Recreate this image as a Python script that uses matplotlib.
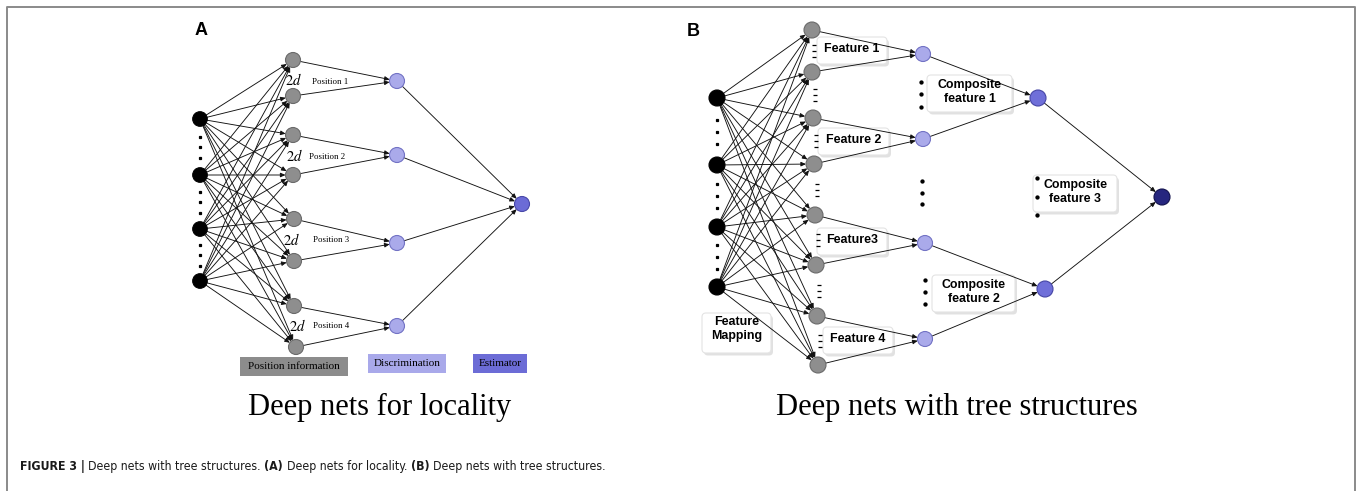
import matplotlib
matplotlib.use('Agg')
import matplotlib.pyplot as plt
from matplotlib.patches import Circle, FancyArrowPatch, FancyBboxPatch, Rectangle
from matplotlib import font_manager as fm

plt.rcParams['mathtext.fontset'] = 'stix'

# ---------------- data (diagram layout, pixel units) -------------
# Panel A: deep nets for locality
a_input_x = 200
a_input_y = [119, 175, 229, 281]
a_hidden_x = [293, 293, 293, 293, 294, 294, 294, 296]
a_hidden_y = [60, 96, 135, 175, 219, 261, 306, 347]
a_disc_x = 397
a_disc_y = [81, 155, 243, 326]
a_est = (522, 204)
a_position_labels = ['Position 1', 'Position 2', 'Position 3', 'Position 4']
a_2d_pos = [(294, 80), (295, 156), (292, 240), (298, 326)]
a_poslabel_pos = [(312, 82), (309, 157), (313, 240), (313, 326)]
a_legend_labels = ['Position information', 'Discrimination', 'Estimator']
a_legend_boxes = [(240, 357, 108, 19), (368, 354, 78, 19), (473, 354, 54, 19)]
a_legend_colors = ['#8c8c8c', '#a9a9ea', '#6c6cd6']
a_title = 'Deep nets for locality'

# Panel B: deep nets with tree structures
b_input_x = 717
b_input_y = [98, 165, 227, 287]
b_hidden_x = [812, 812, 813, 814, 815, 816, 817, 818]
b_hidden_y = [30, 72, 118, 164, 215, 265, 316, 365]
b_feat_x = [923, 923, 925, 925]
b_feat_y = [54, 139, 243, 339]
b_comp = [(1038, 98), (1045, 289)]
b_final = (1162, 197)
b_feature_labels = ['Feature 1', 'Feature 2', 'Feature3', 'Feature 4']
b_feature_boxes = [(817, 37, 70, 27), (818, 128, 71, 27), (817, 228, 70, 27), (823, 327, 70, 27)]
b_comp_labels = ['Composite\nfeature 1', 'Composite\nfeature 2', 'Composite\nfeature 3']
b_comp_boxes = [(927, 75, 85, 37), (932, 275, 83, 37), (1033, 175, 84, 37)]
b_comp_dots = [(921, [82, 94, 107]), (925, [280, 292, 304]), (1037, [178, 197, 215]), (922, [181, 193, 204])]
b_map_label = 'Feature\nMapping'
b_map_box = (702, 313, 69, 40)
b_title = 'Deep nets with tree structures'

caption_parts = [('FIGURE 3 |', 'bold'), ('Deep nets with tree structures.', 'normal'),
                 ('(A)', 'bold'), ('Deep nets for locality.', 'normal'),
                 ('(B)', 'bold'), ('Deep nets with tree structures.', 'normal')]

# ---------------- figure -------------
W, H = 1359, 491
fig = plt.figure(figsize=(W / 100, H / 100), dpi=100)
ax = fig.add_axes([0, 0, 1, 1])
ax.set_xlim(0, W)
ax.set_ylim(H, 0)
ax.axis('off')
PT = 0.72  # points per pixel

SERIF = 'Liberation Serif'
SANS = 'Liberation Sans'

# caption font: prefer a condensed sans face if one is installed
cap_reg, cap_bold = None, None
for f in fm.fontManager.ttflist:
    if f.name == 'Liberation Sans Narrow' or (f.name in ('DejaVu Sans',) and 'condensed' in str(f.stretch)):
        w = f.weight if isinstance(f.weight, int) else (700 if 'bold' in str(f.weight) else 400)
        if f.style != 'normal':
            continue
        if w >= 600 and cap_bold is None:
            cap_bold = fm.FontProperties(fname=f.fname)
        elif w < 600 and cap_reg is None:
            cap_reg = fm.FontProperties(fname=f.fname)
if cap_reg is None or cap_bold is None:
    cap_reg = fm.FontProperties(family=SANS, weight='normal')
    cap_bold = fm.FontProperties(family=SANS, weight='bold')

# frame
ax.plot([7, 7, 1355, 1355], [H, 7, 7, H], color='#8a8a8a', lw=1.4, solid_capstyle='butt', zorder=1)


def node(x, y, r, fc, ec):
    ax.add_patch(Circle((x, y), r, fc=fc, ec=ec, lw=0.8, zorder=5))


def arrow(p, q, ra, rb):
    ax.add_patch(FancyArrowPatch(p, q, arrowstyle='-|>,head_length=0.45,head_width=0.2',
                                 mutation_scale=6.5, shrinkA=ra * PT, shrinkB=rb * PT,
                                 lw=0.65, color='#111111', zorder=3))


def dots(x, ys, marker='s', ms=1.8):
    ax.plot([x] * len(ys), ys, ls='none', marker=marker, ms=ms, color='k', mew=0.9, zorder=4)


def label_box(x0, y0, w, h):
    ax.add_patch(FancyBboxPatch((x0 + 2, y0 + 2.5), w, h, boxstyle='round,pad=0,rounding_size=4',
                                fc='#dadada', ec='none', alpha=0.8, zorder=2))
    ax.add_patch(FancyBboxPatch((x0, y0), w, h, boxstyle='round,pad=0,rounding_size=4',
                                fc='white', ec='#e4e4e4', lw=0.8, zorder=2.1))


# ---------------- panel A -------------
ax.text(201, 30, 'A', fontsize=13, fontweight='bold', family=SANS, ha='center', va='center')
R_A = 7.5
for yi in a_input_y:
    for xh, yh in zip(a_hidden_x, a_hidden_y):
        arrow((a_input_x, yi), (xh, yh), 7.3, R_A)
for k, yd in enumerate(a_disc_y):
    for j in (2 * k, 2 * k + 1):
        arrow((a_hidden_x[j], a_hidden_y[j]), (a_disc_x, yd), R_A, R_A)
    arrow((a_disc_x, yd), a_est, R_A, R_A)
for yi in a_input_y:
    node(a_input_x, yi, 7.3, 'black', 'black')
for y0, y1 in zip(a_input_y[:-1], a_input_y[1:]):
    m = (y0 + y1) / 2
    dots(a_input_x, [m - 10.5, m, m + 10.5])
for xh, yh in zip(a_hidden_x, a_hidden_y):
    node(xh, yh, R_A, '#8e8e8e', '#6a6a6a')
for yd in a_disc_y:
    node(a_disc_x, yd, R_A, '#aaaaea', '#7272c4')
node(a_est[0], a_est[1], R_A, '#6b6bd6', '#4848a8')
for (x2, y2), (xp, yp), lab in zip(a_2d_pos, a_poslabel_pos, a_position_labels):
    ax.text(x2, y2, r'$2d$', fontsize=10.5, ha='center', va='center', zorder=6)
    ax.text(xp, yp, lab, fontsize=6.4, family=SERIF, ha='left', va='center', zorder=6)
for (x0, y0, w, h), c, lab in zip(a_legend_boxes, a_legend_colors, a_legend_labels):
    ax.add_patch(Rectangle((x0, y0), w, h, fc=c, ec='none', zorder=2))
    ax.text(x0 + w / 2, y0 + h / 2, lab, fontsize=8, family=SERIF, ha='center', va='center', zorder=6)
ax.text(380, 415, a_title, fontsize=22, family=SERIF, ha='center', va='baseline')

# ---------------- panel B -------------
ax.text(693, 31.5, 'B', fontsize=13, fontweight='bold', family=SANS, ha='center', va='center')
for (x0, y0, w, h) in b_feature_boxes + b_comp_boxes + [b_map_box]:
    label_box(x0, y0, w, h)
for yi in b_input_y:
    for xh, yh in zip(b_hidden_x, b_hidden_y):
        arrow((b_input_x, yi), (xh, yh), 8, 8)
for k, (xf, yf) in enumerate(zip(b_feat_x, b_feat_y)):
    for j in (2 * k, 2 * k + 1):
        arrow((b_hidden_x[j], b_hidden_y[j]), (xf, yf), 8, 7.5)
    arrow((xf, yf), b_comp[k // 2], 7.5, 8)
for c in b_comp:
    arrow(c, b_final, 8, 8)
for yi in b_input_y:
    node(b_input_x, yi, 8, 'black', 'black')
for y0, y1 in zip(b_input_y[:-1], b_input_y[1:]):
    m = (y0 + y1) / 2
    dots(b_input_x, [m - 12, m, m + 12])
for k, (y0, y1) in enumerate(zip(b_hidden_y[:-1], b_hidden_y[1:])):
    m = (y0 + y1) / 2
    x = (b_hidden_x[k] + b_hidden_x[k + 1]) / 2 + 2
    dots(x, [m - 6, m, m + 6], marker='_', ms=3.0)
for xh, yh in zip(b_hidden_x, b_hidden_y):
    node(xh, yh, 8, '#8e8e8e', '#6a6a6a')
for xf, yf in zip(b_feat_x, b_feat_y):
    node(xf, yf, 7.5, '#aaaaea', '#7272c4')
for c in b_comp:
    node(c[0], c[1], 8, '#6f6fd9', '#4545a5')
node(b_final[0], b_final[1], 8, '#26267f', '#12124d')
for xd, ys in b_comp_dots:
    dots(xd, ys, marker='o', ms=2.2)
for (x0, y0, w, h), lab in zip(b_feature_boxes, b_feature_labels):
    ax.text(x0 + w / 2, y0 + h / 2 - 1.5, lab, fontsize=8.9, fontweight='bold', family=SANS,
            ha='center', va='center', zorder=6)
for (x0, y0, w, h), lab in zip(b_comp_boxes, b_comp_labels):
    ax.text(x0 + w / 2, y0 + h / 2 - 1.5, lab, fontsize=8.9, fontweight='bold', family=SANS,
            ha='center', va='center', linespacing=1.15, zorder=6)
x0, y0, w, h = b_map_box
ax.text(x0 + w / 2, y0 + 16, b_map_label, fontsize=8.9, fontweight='bold', family=SANS,
        ha='center', va='center', linespacing=1.15, zorder=6)
ax.text(957, 415, b_title, fontsize=22, family=SERIF, ha='center', va='baseline')

# ---------------- figure caption -------------
renderer = fig.canvas.get_renderer()
inv = ax.transData.inverted()


def text_width(s, fp, size):
    t = ax.text(0, 0, s, fontproperties=fp, fontsize=size)
    bb = t.get_window_extent(renderer=renderer)
    t.remove()
    return bb.width


def caption_width(size):
    sp = text_width('x x', cap_reg, size) - text_width('xx', cap_reg, size)
    tot = 0
    for s, wgt in caption_parts:
        tot += text_width(s, cap_bold if wgt == 'bold' else cap_reg, size) + sp
    return tot - sp, sp


trial = 10.0
wt, _ = caption_width(trial)
cap_size = trial * (602 - 20) / wt          # caption spans x = 20 .. ~600 in the reference
_, space = caption_width(cap_size)
x = 20
for s, wgt in caption_parts:
    t = ax.text(x, 470, s, fontproperties=cap_bold if wgt == 'bold' else cap_reg, fontsize=cap_size,
                ha='left', va='baseline', color='#1a1a1a')
    bb = t.get_window_extent(renderer=renderer)
    x = inv.transform((bb.x1, 0))[0] + space

fig.savefig('out.png', dpi=100, facecolor='white')
